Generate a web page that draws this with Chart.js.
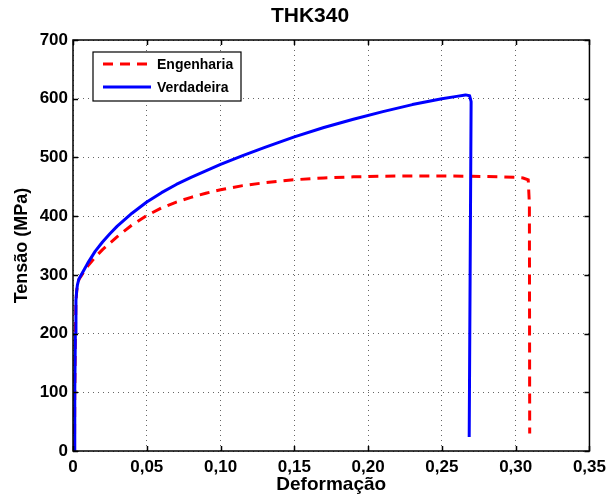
<!DOCTYPE html>
<html>
<head>
<meta charset="utf-8">
<script src="https://cdn.jsdelivr.net/npm/chart.js@4.4.1/dist/chart.umd.min.js"></script>
<style>
  html, body { margin: 0; padding: 0; background: #fff; }
  #wrap { width: 612px; height: 498px; }
</style>
</head>
<body>
<div id="wrap"><canvas id="thkChart" width="612" height="498"></canvas></div>
<script>
// Curva de engenharia (tensão x deformação)
const strainEng = [0.001, 0.0012, 0.0016, 0.002, 0.0025, 0.003, 0.004, 0.006, 0.008, 0.010, 0.015, 0.020, 0.025, 0.030, 0.040, 0.050, 0.060, 0.070, 0.080, 0.090, 0.100, 0.115, 0.130, 0.150, 0.170, 0.190, 0.210, 0.230, 0.250, 0.270, 0.290, 0.300, 0.305, 0.3085, 0.3093, 0.3095];
const stressEng = [0, 100, 200, 255, 272, 282, 292, 300, 308, 315, 330, 343, 354, 365, 385, 401, 414, 424, 432, 439, 445, 452, 457, 462, 465, 467, 468, 468.5, 468.5, 468, 467, 466, 465, 462, 420, 30];

// Curva verdadeira
const strainTrue = [0.001, 0.0012, 0.0016, 0.002, 0.0025, 0.003, 0.004, 0.006, 0.008, 0.010, 0.015, 0.020, 0.025, 0.030, 0.040, 0.050, 0.060, 0.070, 0.080, 0.090, 0.100, 0.115, 0.130, 0.150, 0.170, 0.190, 0.210, 0.230, 0.250, 0.260, 0.266, 0.2688, 0.2698, 0.2685];
const stressTrue = [0, 100, 200, 256, 273, 283, 293, 302, 311, 320, 340, 356, 370, 383, 405, 424, 440, 454, 466, 477, 488, 503, 517, 535, 551, 565, 578, 590, 600, 604, 606.5, 605, 595, 24];

const xTickValues = [0, 0.05, 0.10, 0.15, 0.20, 0.25, 0.30, 0.35];
const xTickLabels = ['0', '0,05', '0,10', '0,15', '0,20', '0,25', '0,30', '0,35'];
const yTickValues = [0, 100, 200, 300, 400, 500, 600, 700];
const yTickLabels = ['0', '100', '200', '300', '400', '500', '600', '700'];

Chart.defaults.font.family = '"Liberation Sans", Arial, Helvetica, sans-serif';
Chart.defaults.color = '#000';

function toPoints(xs, ys) {
    return xs.map((x, i) => ({ x: x, y: ys[i] }));
}

// moldura, marcas internas, título e legenda no estilo MATLAB
const matlabFrame = {
    id: 'matlabFrame',
    afterDraw(chart) {
        const ctx = chart.ctx;
        const a = chart.chartArea;
        const xs = chart.scales.x, ys = chart.scales.y;
        ctx.save();
        ctx.strokeStyle = '#000';
        ctx.lineWidth = 1.5;
        ctx.setLineDash([]);
        ctx.beginPath();
        xTickValues.forEach(v => {
            const px = Math.round(xs.getPixelForValue(v)) + 0.5;
            ctx.moveTo(px, a.bottom); ctx.lineTo(px, a.bottom - 5);
            ctx.moveTo(px, a.top); ctx.lineTo(px, a.top + 5);
        });
        yTickValues.forEach(v => {
            const py = Math.round(ys.getPixelForValue(v)) + 0.5;
            ctx.moveTo(a.left, py); ctx.lineTo(a.left + 5, py);
            ctx.moveTo(a.right, py); ctx.lineTo(a.right - 5, py);
        });
        ctx.stroke();
        ctx.strokeRect(a.left, a.top, a.right - a.left, a.bottom - a.top);

        // título
        ctx.fillStyle = '#000';
        ctx.font = 'bold 21px "Liberation Sans", Arial, sans-serif';
        ctx.textAlign = 'center';
        ctx.textBaseline = 'middle';
        ctx.fillText('THK340', 310, 16);

        // legenda
        const lx = a.left + 20, ly = a.top + 12, lw = 148, lh = 49;
        ctx.fillStyle = '#fff';
        ctx.fillRect(lx, ly, lw, lh);
        ctx.lineWidth = 1.2;
        ctx.strokeRect(lx, ly, lw, lh);
        const items = [chart.data.datasets[0], chart.data.datasets[1]];
        items.forEach((ds, i) => {
            const y = ly + 12 + i * 23;
            ctx.strokeStyle = ds.borderColor;
            ctx.lineWidth = 3;
            ctx.setLineDash(ds.borderDash || []);
            ctx.beginPath();
            ctx.moveTo(lx + 10, y);
            ctx.lineTo(lx + 58, y);
            ctx.stroke();
            ctx.setLineDash([]);
            ctx.fillStyle = '#000';
            ctx.font = 'bold 14px "Liberation Sans", Arial, sans-serif';
            ctx.textBaseline = 'middle';
            ctx.textAlign = 'left';
            ctx.fillText(ds.label, lx + 64, y + 1);
        });
        ctx.restore();
    }
};

const thkChart = new Chart(document.getElementById('thkChart'), {
    type: 'scatter',
    data: {
        datasets: [{
            label: 'Engenharia',
            data: toPoints(strainEng, stressEng),
            showLine: true,
            borderColor: '#ff0000',
            borderWidth: 3,
            borderDash: [10, 7],
            pointRadius: 0,
            fill: false,
            order: 1
        }, {
            label: 'Verdadeira',
            data: toPoints(strainTrue, stressTrue),
            showLine: true,
            borderColor: '#0000ff',
            borderWidth: 3,
            borderJoinStyle: 'round',
            pointRadius: 0,
            fill: false,
            order: 0
        }]
    },
    options: {
        responsive: false,
        animation: false,
        layout: { padding: { left: 0, right: 17, top: 40, bottom: 0 } },
        plugins: {
            legend: { display: false },
            tooltip: { enabled: false },
            title: { display: false }
        },
        scales: {
            x: {
                type: 'linear',
                min: 0,
                max: 0.35,
                afterBuildTicks: function(scale) {
                    scale.ticks = xTickValues.map(v => ({ value: v }));
                },
                afterFit: function(scale) { scale.height = 47; },
                ticks: {
                    padding: 6,
                    maxRotation: 0,
                    font: { size: 17, weight: 'bold' },
                    callback: function(value, index) { return xTickLabels[index]; }
                },
                grid: { color: 'rgba(0,0,0,0.6)', lineWidth: 1, drawTicks: false },
                border: { display: false, dash: [1, 4] },
                title: {
                    display: true,
                    text: 'Deformação',
                    font: { size: 19, weight: 'bold' },
                    padding: { top: 2, bottom: 2 }
                }
            },
            y: {
                min: 0,
                max: 700,
                afterBuildTicks: function(scale) {
                    scale.ticks = yTickValues.map(v => ({ value: v }));
                },
                afterFit: function(scale) { scale.width = 73; },
                ticks: {
                    padding: 5,
                    font: { size: 17, weight: 'bold' },
                    callback: function(value, index) { return yTickLabels[index]; }
                },
                grid: { color: 'rgba(0,0,0,0.6)', lineWidth: 1, drawTicks: false },
                border: { display: false, dash: [1, 4] },
                title: {
                    display: true,
                    text: 'Tensão (MPa)',
                    font: { size: 18, weight: 'bold' },
                    padding: { top: 11, bottom: 11 }
                }
            }
        }
    },
    plugins: [matlabFrame]
});
</script>
</body>
</html>
